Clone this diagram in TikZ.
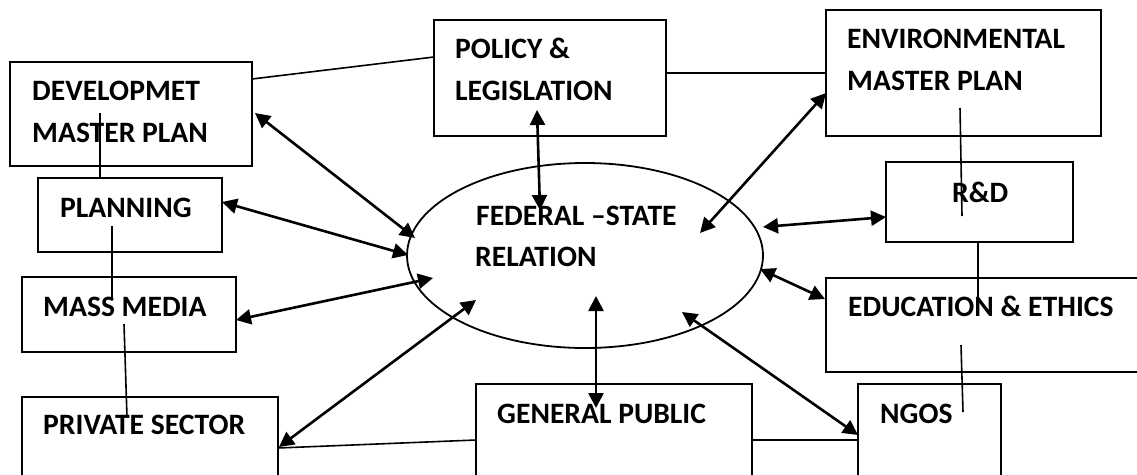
\documentclass[tikz,border=0pt]{standalone}
\usepackage{fontspec}
\setmainfont{Carlito}
\usetikzlibrary{arrows.meta}
\begin{document}
\begin{tikzpicture}[x=1pt,y=-1pt,
  frame/.style={line width=2pt},
  lbl/.style={anchor=base west,inner sep=0pt,font=\fontsize{29.6}{35}\selectfont\bfseries},
  link/.style={line width=1.6pt},
  dual/.style={line width=2.6pt,{Triangle[length=15pt,width=15pt]}-{Triangle[length=15pt,width=15pt]}}]
\clip (0,0) rectangle (1137,474);
\fill[white] (0,0) rectangle (1137,474);

% boxes
\draw[frame] (10,62) rectangle (252,166) node[pos=0.5] (dev) {};
\draw[frame] (38,178) rectangle (222,252) node[pos=0.5] (plan) {};
\draw[frame] (22,277) rectangle (236,352) node[pos=0.5] (mass) {};
\draw[frame] (22,397) rectangle (278,500) node[pos=0.5] (priv) {};
\draw[frame] (434,20) rectangle (666,136) node[pos=0.5] (pol) {};
\draw[frame] (826,10) rectangle (1101,136) node[pos=0.5] (env) {};
\draw[frame] (886,162) rectangle (1073,242) node[pos=0.5] (rd) {};
\draw[frame] (826,278) rectangle (1160,372) node[pos=0.5] (edu) {};
\draw[frame] (858,384) rectangle (1001,500) node[pos=0.5] (ngo) {};
\draw[frame] (476,384) rectangle (752,500) node[pos=0.5] (gen) {};
\draw[line width=1.8pt] (585,255.5) ellipse [x radius=178, y radius=92.5];
\coordinate (fsr) at (585,255.5);

% labels
\node[lbl] (devT1) at (32,100) {DEVELOPMET};
\node[lbl] (devT2) at (32,142) {MASTER PLAN};
\node[lbl] (planT) at (60,217) {PLANNING};
\node[lbl] (massT) at (43,316) {MASS MEDIA};
\node[lbl] (privT) at (43,434) {PRIVATE SECTOR};
\node[lbl] (polT1) at (455,58) {POLICY \&};
\node[lbl] (polT2) at (455,100) {LEGISLATION};
\node[lbl] (envT1) at (847,48) {ENVIRONMENTAL};
\node[lbl] (envT2) at (847,90) {MASTER PLAN};
\node[lbl] (rdT) at (952,202) {R\&D};
\node[lbl] (fsrT1) at (476,225) {FEDERAL –STATE};
\node[lbl] (fsrT2) at (475,266) {RELATION};
\node[lbl] (eduT) at (848,316) {EDUCATION \& ETHICS};
\node[lbl] (genT) at (497,423) {GENERAL PUBLIC};
\node[lbl] (ngoT) at (880,423) {NGOS};

% connector ends
\coordinate (devR) at (252,79);   \coordinate (polL) at (434,57);
\coordinate (polR) at (666,73);   \coordinate (envL) at (826,73);
\coordinate (devIn) at (100,113); \coordinate (planTop) at (100,178);
\coordinate (planIn) at (112,226); \coordinate (massIn) at (112,298);
\coordinate (massIn2) at (124,324); \coordinate (privIn) at (127,417);
\coordinate (privR) at (278,448); \coordinate (genL) at (476,440);
\coordinate (genR) at (752,440);  \coordinate (ngoL) at (858,440);
\coordinate (envIn) at (960,108); \coordinate (rdIn) at (962,216);
\coordinate (rdBot) at (978,242); \coordinate (eduIn) at (978,298);
\coordinate (eduIn2) at (961,345); \coordinate (ngoIn) at (963,412);

% plain links
\draw[link] (devR) -- (polL);
\draw[link] (polR) -- (envL);
\draw[link] (devIn) -- (planTop);
\draw[link] (planIn) -- (massIn);
\draw[link] (massIn2) -- (privIn);
\draw[link] (privR) -- (genL);
\draw[link] (genR) -- (ngoL);
\draw[link] (envIn) -- (rdIn);
\draw[link] (rdBot) -- (eduIn);
\draw[link] (eduIn2) -- (ngoIn);

% two-way arrows with the federal-state relation
\coordinate (aDev) at (255,113);  \coordinate (eDev) at (415,238);
\coordinate (aPlan) at (222,202); \coordinate (ePlan) at (408,255);
\coordinate (aMass) at (236,320); \coordinate (eMass) at (433,278);
\coordinate (aPriv) at (279,447); \coordinate (ePriv) at (476,300);
\coordinate (aPol) at (537,110);  \coordinate (ePol) at (540,210);
\coordinate (aEnv) at (826,93);   \coordinate (eEnv) at (700,233);
\coordinate (aRd) at (886,217);   \coordinate (eRd) at (763,227);
\coordinate (aEdu) at (825,299);  \coordinate (eEdu) at (760,269);
\coordinate (aGen) at (596,408);  \coordinate (eGen) at (596,296);
\coordinate (aNgo) at (858,435);  \coordinate (eNgo) at (682,312);

\draw[dual] (aDev) -- (eDev);
\draw[dual] (aPlan) -- (ePlan);
\draw[dual] (aMass) -- (eMass);
\draw[dual] (aPriv) -- (ePriv);
\draw[dual] (aPol) -- (ePol);
\draw[dual] (aEnv) -- (eEnv);
\draw[dual] (aRd) -- (eRd);
\draw[dual] (aEdu) -- (eEdu);
\draw[dual] (aGen) -- (eGen);
\draw[dual] (aNgo) -- (eNgo);
\end{tikzpicture}
\end{document}
